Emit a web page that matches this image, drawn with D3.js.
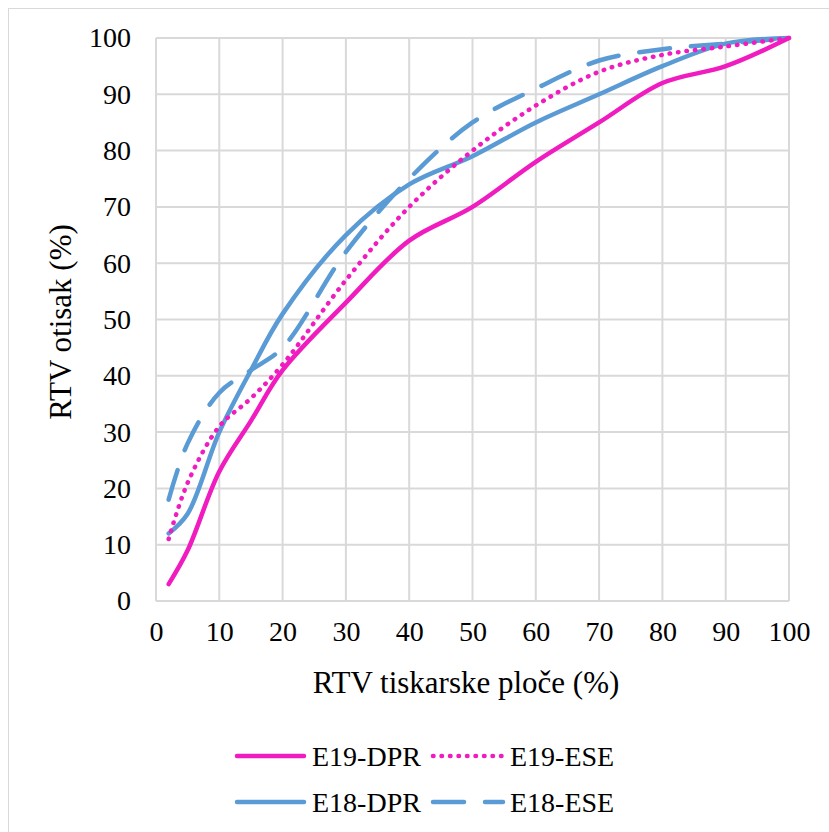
<!DOCTYPE html>
<html>
<head>
<meta charset="utf-8">
<script src="https://cdn.jsdelivr.net/npm/d3@7"></script>
<style>
  body { margin: 0; background: #fff; }
  svg text { font-family: "Liberation Serif", "DejaVu Serif", serif; fill: #000; }
</style>
</head>
<body>
<div id="chart"></div>
<script>
"use strict";

var FONT = "'Liberation Serif', 'DejaVu Serif', serif";

// RTV values
var plateRtv = [2, 5, 10, 15, 20, 30, 40, 50, 60, 70, 80, 90, 100];
var e19Dpr = [3, 9, 23, 32, 41, 53, 64, 70, 78, 85, 92, 95, 100];
var e19Ese = [11, 21, 31, 36, 42, 57, 70, 80, 88, 94, 97, 98.5, 100];
var e18Dpr = [12, 15.5, 30, 41, 51, 65, 74, 79, 85, 90, 95, 99, 100];
var e18Ese = [18, 28, 37, 41, 45, 62, 75, 85, 91, 96, 98, 99, 100];

var seriesNames = ["E19-DPR", "E19-ESE", "E18-DPR", "E18-ESE"];
var ticks = [0, 10, 20, 30, 40, 50, 60, 70, 80, 90, 100];

var PINK = "#F01CC0";
var BLUE = "#5B9BD5";
var GRID = "#d9d9d9";

var W = 829, H = 832;

var styles = {
    "E19-DPR": { color: PINK, dash: null },
    "E19-ESE": { color: PINK, dash: "0.5 8" },
    "E18-DPR": { color: BLUE, dash: null },
    "E18-ESE": { color: BLUE, dash: "31 21" }
};

var svg = d3.select("#chart").append("svg")
    .attr("width", W)
    .attr("height", H)
    .attr("font-family", FONT);

// outer chart border (cut off on right / bottom)
svg.append("rect")
    .attr("x", 8.5).attr("y", 8.5)
    .attr("width", W + 20).attr("height", H + 20)
    .attr("fill", "none")
    .attr("stroke", GRID);

var x = d3.scaleLinear().domain([0, 100]).range([156, 789]);
var y = d3.scaleLinear().domain([0, 100]).range([601, 38]);

// gridlines
var grid = svg.append("g");
ticks.forEach(function (t) {
    grid.append("line")
        .attr("x1", x(t)).attr("x2", x(t))
        .attr("y1", y(0)).attr("y2", y(100))
        .attr("stroke", GRID).attr("stroke-width", 2);
    grid.append("line")
        .attr("x1", x(0)).attr("x2", x(100))
        .attr("y1", y(t)).attr("y2", y(t))
        .attr("stroke", GRID).attr("stroke-width", 2);
});

// axes (labels only, Excel style)
var xAxis = d3.axisBottom(x).tickValues(ticks).tickSize(0).tickPadding(20);
svg.append("g")
    .attr("transform", "translate(0," + y(0) + ")")
    .call(xAxis)
    .attr("font-family", FONT)
    .attr("font-size", 28)
    .call(function (g) { g.select(".domain").remove(); });

var yAxis = d3.axisLeft(y).tickValues(ticks).tickSize(0).tickPadding(25);
svg.append("g")
    .attr("transform", "translate(" + x(0) + ",0)")
    .call(yAxis)
    .attr("font-family", FONT)
    .attr("font-size", 28)
    .call(function (g) { g.select(".domain").remove(); });

// axis titles
svg.append("text")
    .attr("x", 466).attr("y", 693)
    .attr("text-anchor", "middle")
    .style("font-size", "31px")
    .text("RTV tiskarske ploče (%)");

svg.append("text")
    .attr("transform", "translate(71,322) rotate(-90)")
    .attr("text-anchor", "middle")
    .style("font-size", "31px")
    .text("RTV otisak (%)");

// lines
var lineGen = d3.line()
    .x(function (d) { return x(d.x); })
    .y(function (d) { return y(d.y); })
    .curve(d3.curveCatmullRom.alpha(0.5));

function toPoints(vals) {
    return plateRtv.map(function (v, i) { return { x: v, y: vals[i] }; });
}

var seriesData = {
    "E19-DPR": e19Dpr,
    "E19-ESE": e19Ese,
    "E18-DPR": e18Dpr,
    "E18-ESE": e18Ese
};

// draw order: blue first then pink on top
["E18-ESE", "E18-DPR", "E19-ESE", "E19-DPR"].forEach(function (name) {
    var st = styles[name];
    svg.append("path")
        .attr("d", lineGen(toPoints(seriesData[name])))
        .attr("fill", "none")
        .attr("stroke", st.color)
        .attr("stroke-width", 4.5)
        .attr("stroke-linecap", "round")
        .attr("stroke-linejoin", "round")
        .attr("stroke-dasharray", st.dash);
});

// legend
var legendPos = [
    { name: "E19-DPR", lx: 237, ly: 756 },
    { name: "E19-ESE", lx: 433, ly: 756 },
    { name: "E18-DPR", lx: 237, ly: 802 },
    { name: "E18-ESE", lx: 433, ly: 802 }
];

legendPos.forEach(function (p) {
    var st = styles[p.name];
    var len = p.name.indexOf("ESE") > 0 ? 70 : 67;
    svg.append("line")
        .attr("x1", p.lx).attr("x2", p.lx + len)
        .attr("y1", p.ly).attr("y2", p.ly)
        .attr("stroke", st.color)
        .attr("stroke-width", 4.5)
        .attr("stroke-linecap", "round")
        .attr("stroke-dasharray", st.dash);
    svg.append("text")
        .attr("x", p.name.indexOf("ESE") > 0 ? 510 : 312)
        .attr("y", p.ly + 10)
        .style("font-size", "28px")
        .text(p.name);
});
</script>
</body>
</html>
